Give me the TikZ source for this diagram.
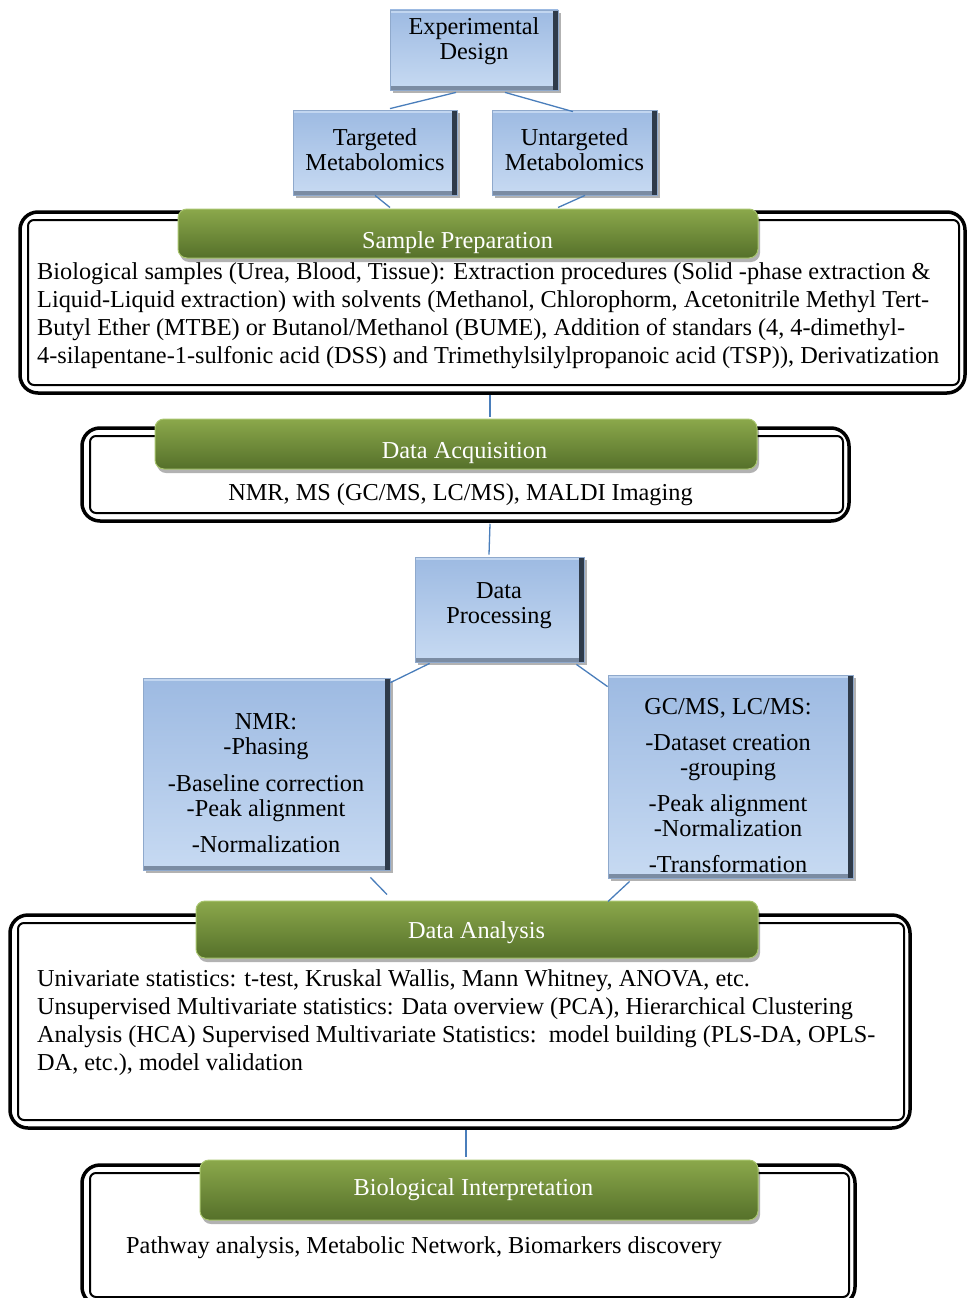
\documentclass[tikz,border=0pt]{standalone}
\usepackage{fontspec}
\setmainfont{Liberation Serif}
\usetikzlibrary{shadows,calc}
\definecolor{bxTop}{HTML}{9DBAE2}
\definecolor{bxBot}{HTML}{C7DAF2}
\definecolor{bxDark}{HTML}{2F3B4A}
\definecolor{bxMid}{HTML}{7B8CA3}
\definecolor{bxLight}{HTML}{C2D6F0}
\definecolor{bxEdge}{HTML}{8FA9CC}
\definecolor{gnTop}{HTML}{8BA84B}
\definecolor{gnBot}{HTML}{55702A}
\definecolor{gnEdge}{HTML}{A9C66F}
\definecolor{cnBlue}{HTML}{4A7EBB}
\tikzset{
  bluebox/.style={rectangle, inner sep=0pt, top color=bxTop, bottom color=bxBot,
    draw=bxEdge, line width=0.8pt,
    drop shadow={shadow xshift=3pt, shadow yshift=-3pt, opacity=0.3, fill=black},
    path picture={
      \fill[bxLight] (path picture bounding box.north west) rectangle ([xshift=-5pt,yshift=-3pt]path picture bounding box.north east);
      \fill[bxMid] (path picture bounding box.south west) rectangle ([xshift=-5pt,yshift=4pt]path picture bounding box.south east);
      \fill[bxDark] ([xshift=-5pt]path picture bounding box.north east) rectangle (path picture bounding box.south east);
    }},
  banner/.style={rectangle, rounded corners=9pt, inner sep=0pt, top color=gnTop, bottom color=gnBot,
    draw=gnEdge, line width=1pt,
    drop shadow={shadow xshift=2pt, shadow yshift=-4pt, opacity=0.3, fill=black}},
  frame/.style={rectangle, draw=black, line width=3.5pt, rounded corners=18pt, fill=white, inner sep=0pt,
    path picture={\draw[black, line width=2pt, rounded corners=6pt]
      ([shift={(8pt,-8pt)}]path picture bounding box.north west) rectangle
      ([shift={(-6pt,8pt)}]path picture bounding box.south east);}},
  boxtext/.style={align=center, inner sep=0pt, font=\fontsize{24.3}{25}\selectfont},
  bannertext/.style={inner sep=0pt, text=white, font=\fontsize{24.3}{28}\selectfont},
  bodytext/.style={align=left, inner sep=0pt, font=\fontsize{24.3}{28}\selectfont},
  conn/.style={draw=cnBlue, line width=1.3pt},
}
\begin{document}
\begin{tikzpicture}[x=1pt,y=-1pt]
\useasboundingbox (0,0) rectangle (967,1298);
\fill[white] (0,0) rectangle (967,1298);

% frames
\node[frame, minimum width=945pt, minimum height=181pt] (spf) at (492.5,302.5) {};
\node[frame, minimum width=767pt, minimum height=93pt] (daf) at (465.5,474.5) {};
\node[frame, minimum width=900pt, minimum height=213pt] (anf) at (460,1021.5) {};
\node[frame, minimum width=773pt, minimum height=140pt] (bif) at (468.5,1235) {};

% blue boxes
\node[bluebox, minimum width=168pt, minimum height=80pt] (ed) at (474,50) {};
\node[bluebox, minimum width=164pt, minimum height=85pt] (tm) at (375,152.5) {};
\node[bluebox, minimum width=165pt, minimum height=85pt] (um) at (574.5,152.5) {};
\node[bluebox, minimum width=169pt, minimum height=105pt] (dp) at (499.5,609.5) {};
\node[bluebox, minimum width=247pt, minimum height=192pt] (nmr) at (266.5,774) {};
\node[bluebox, minimum width=245pt, minimum height=203pt] (gc) at (730.5,776.5) {};

% banners
\node[banner, minimum width=580pt, minimum height=49pt] (spb) at (468,233.5) {};
\node[banner, minimum width=602pt, minimum height=50pt] (dab) at (456,444) {};
\node[banner, minimum width=562pt, minimum height=57pt] (anb) at (477,929.5) {};
\node[banner, minimum width=558pt, minimum height=60pt] (bib) at (479,1190) {};

% texts
\node[boxtext] (edt) at (474,41) {Experimental\\Design};
\node[boxtext] (tmt) at (375,149.5) {Targeted\\Metabolomics};
\node[boxtext] (umt) at (574.5,149.5) {Untargeted\\Metabolomics};
\node[boxtext] (dpt) at (499,605.5) {Data\\Processing};
\node[boxtext] (nmrt) at (266,783.5) {NMR:\\-Phasing\\[12pt]-Baseline correction\\-Peak alignment\\[11pt]-Normalization};
\node[boxtext] (gct) at (728,785.5) {GC/MS, LC/MS:\\[11pt]-Dataset creation\\-grouping\\[11pt]-Peak alignment\\-Normalization\\[11pt]-Transformation};

\node[bannertext] (spbt) at (457.5,243) {Sample Preparation};
\node[bannertext] (dabt) at (464.5,453) {Data Acquisition};
\node[bannertext] (anbt) at (476.5,933) {Data Analysis};
\node[bannertext] (bibt) at (473.5,1190) {Biological Interpretation};

\node[bodytext, anchor=west] (spt) at (37,316) {Biological samples (Urea, Blood, Tissue): Extraction procedures (Solid -phase extraction \&\\
Liquid-Liquid extraction) with solvents (Methanol, Chlorophorm, Acetonitrile Methyl Tert-\\
Butyl Ether (MTBE) or Butanol/Methanol (BUME), Addition of standars (4, 4-dimethyl-\\
4-silapentane-1-sulfonic acid (DSS) and Trimethylsilylpropanoic acid (TSP)), Derivatization};
\node[bodytext] (dat) at (460.5,495) {NMR, MS (GC/MS, LC/MS), MALDI Imaging};
\node[bodytext, anchor=west] (ant) at (37,1023) {Univariate statistics: t-test, Kruskal Wallis, Mann Whitney, ANOVA, etc.\\
Unsupervised Multivariate statistics: Data overview (PCA), Hierarchical Clustering\\
Analysis (HCA) Supervised Multivariate Statistics:\ \ model building (PLS-DA, OPLS-\\
DA, etc.), model validation};
\node[bodytext, anchor=west] (bit) at (126,1248) {Pathway analysis, Metabolic Network, Biomarkers discovery};

% connectors
\draw[conn] ([xshift=-18pt,yshift=-2pt]ed.south) -- ([xshift=15pt,yshift=1pt]tm.north);
\draw[conn] ([xshift=31pt,yshift=-2pt]ed.south) -- ([xshift=-1.5pt,yshift=-2pt]um.north);
\draw[conn] (tm.south) -- ([xshift=-78pt,yshift=1pt]spb.north);
\draw[conn] ([xshift=10.5pt]um.south) -- ([xshift=90pt,yshift=1pt]spb.north);
\draw[conn] ([xshift=-2.5pt]spf.south) -- ([xshift=34pt,yshift=2pt]dab.north);
\draw[conn] ([xshift=24.5pt,yshift=-1pt]daf.south) -- ([xshift=-10.5pt,yshift=2pt]dp.north);
\draw[conn] ([xshift=15pt,yshift=-1pt]dp.south west) -- ([yshift=-5pt]nmr.north east);
\draw[conn] ([xshift=-8pt,yshift=-2pt]dp.south east) -- ([yshift=-12pt]gc.north west);
\draw[conn] ([xshift=-20pt,yshift=-7pt]nmr.south east) -- ([xshift=-90pt,yshift=6pt]anb.north);
\draw[conn] ([xshift=22pt,yshift=-3pt]gc.south west) -- ([xshift=131pt,yshift=-1pt]anb.north);
\draw[conn] ([xshift=6pt]anf.south) -- ([xshift=-13pt,yshift=3pt]bib.north);
\end{tikzpicture}
\end{document}
